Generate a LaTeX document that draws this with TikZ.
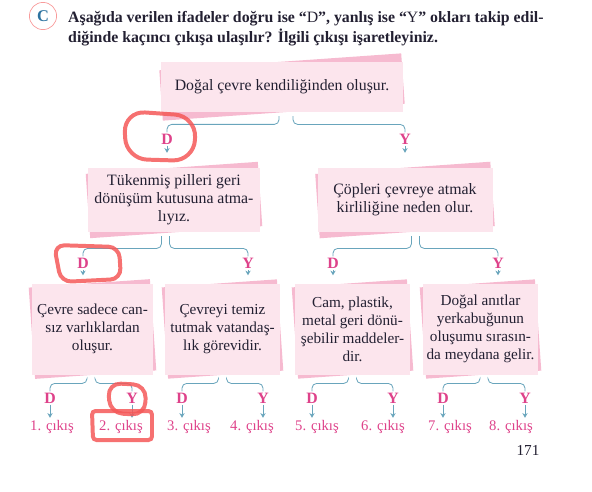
\documentclass[tikz,border=0pt]{standalone}
\usepackage{fontspec}
\setmainfont{Liberation Serif}
\usepackage{tikz}
\usetikzlibrary{positioning, calc, arrows.meta, backgrounds, fit}

\definecolor{cardPink}{RGB}{252, 229, 237}
\definecolor{backPink}{RGB}{246, 186, 208}
\definecolor{inkDark}{RGB}{35, 32, 50}
\definecolor{linkBlue}{RGB}{105, 165, 188}
\definecolor{answerPink}{RGB}{222, 66, 138}
\definecolor{markRed}{RGB}{244, 88, 88}
\definecolor{badgeBlue}{RGB}{45, 115, 160}

\begin{document}
\begin{tikzpicture}[
    x=0.03cm, y=-0.03cm,
    card/.style={fill=cardPink, inner sep=0pt, align=center, text=inkDark,
                 font=\fontsize{13.5}{15.3}\selectfont},
    smallcard/.style={card, font=\fontsize{13}{15.3}\selectfont},
    backcard/.style={fill=backPink, inner sep=0pt, rotate=4},
    choice/.style={text=answerPink, inner sep=1pt,
                   font=\bfseries\fontsize{13.5}{15}\selectfont},
    exit/.style={text=answerPink, inner sep=1pt, font=\fontsize{12.5}{14}\selectfont},
    link/.style={draw=linkBlue, line width=0.7pt, rounded corners=4pt},
    arrow/.style={-{Stealth[length=4pt, width=4.5pt]}, draw=linkBlue, line width=0.8pt},
    penmark/.style={draw=markRed, line width=3.4pt, opacity=0.85},
  ]
    \useasboundingbox (0,0) rectangle (592,491);

    % Task line
    \node[circle, draw=markRed!60, line width=0.6pt, minimum size=0.75cm,
          text=badgeBlue, font=\bfseries\fontsize{14}{16}\selectfont] (badge) at (43,16) {C};
    \node[anchor=base west, inner sep=0pt, text=inkDark,
          font=\bfseries\fontsize{13.5}{15}\selectfont] (task1) at (68,22)
         {Aşağıda verilen ifadeler doğru ise “\textmd{D}”, yanlış ise “\textmd{Y}” okları takip edil-};
    \node[anchor=base west, inner sep=0pt, text=inkDark,
          font=\bfseries\fontsize{13.5}{15}\selectfont] (task2) at (68,42)
         {diğinde kaçıncı çıkışa ulaşılır? İlgili çıkışı işaretleyiniz.};

    % First statement
    \node[card, minimum width=7.26cm, minimum height=1.5cm] (top) at (282,87)
         {Doğal çevre kendiliğinden oluşur.};
    \node[choice] (topD) at (167,139) {D};
    \node[choice] (topY) at (405,139) {Y};

    % Second row
    \node[card, minimum width=5.16cm, minimum height=1.92cm] (midL) at (174,200)
         {Tükenmiş pilleri geri\\dönüşüm kutusuna atma-\\lıyız.};
    \node[card, minimum width=5.25cm, minimum height=1.92cm] (midR) at (405,200)
         {Çöpleri çevreye atmak\\kirliliğine neden olur.};
    \node[choice] (midLD) at (83,263) {D};
    \node[choice] (midLY) at (248,263) {Y};
    \node[choice] (midRD) at (333,263) {D};
    \node[choice] (midRY) at (498,263) {Y};

    % Third row
    \node[smallcard, minimum width=3.63cm, minimum height=2.73cm] (endA) at (92.5,329)
         {Çevre sadece can-\\sız varlıklardan\\oluşur.};
    \node[smallcard, minimum width=3.45cm, minimum height=2.73cm] (endB) at (222.5,329)
         {Çevreyi temiz\\tutmak vatandaş-\\lık görevidir.};
    \node[smallcard, minimum width=3.45cm, minimum height=2.73cm] (endC) at (352.5,329)
         {Cam, plastik,\\metal geri dönü-\\şebilir maddeler-\\dir.};
    \node[smallcard, minimum width=3.45cm, minimum height=2.73cm] (endD) at (480.5,329)
         {Doğal anıtlar\\yerkabuğunun\\oluşumu sırasın-\\da meydana gelir.};
    \node[choice] (endAD) at (50,398) {D};
    \node[choice] (endAY) at (132,398) {Y};
    \node[choice] (endBD) at (182,398) {D};
    \node[choice] (endBY) at (263,398) {Y};
    \node[choice] (endCD) at (312,398) {D};
    \node[choice] (endCY) at (393,398) {Y};
    \node[choice] (endDD) at (443,398) {D};
    \node[choice] (endDY) at (525,398) {Y};

    % Exits
    \node[exit] (ex1) at (52,427) {1. çıkış};
    \node[exit] (ex2) at (121,427) {2. çıkış};
    \node[exit] (ex3) at (189,427) {3. çıkış};
    \node[exit] (ex4) at (252,427) {4. çıkış};
    \node[exit] (ex5) at (317,427) {5. çıkış};
    \node[exit] (ex6) at (383,427) {6. çıkış};
    \node[exit] (ex7) at (450,427) {7. çıkış};
    \node[exit] (ex8) at (511,427) {8. çıkış};

    \node[text=inkDark, font=\fontsize{13}{15}\selectfont] (page) at (528,450) {171};

    % Cards behind the cards
    \begin{scope}[on background layer]
      \foreach \c in {top, midL, midR, endA, endB, endC, endD}
        \node[backcard, fit=(\c)] {};
    \end{scope}

    % Brackets
    \foreach \card/\dn/\yn/\gap in {top/topD/topY/7, midL/midLD/midLY/4, midR/midRD/midRY/4,
        endA/endAD/endAY/4, endB/endBD/endBY/4, endC/endCD/endCY/4, endD/endDD/endDY/4} {
      \coordinate (m\card) at ($(\dn)!0.5!(\yn)$);
      \draw[link] ($(m\card |- \card.south)+(-\gap,4)$) |- ($(\dn.north)+(0,-8)$) -- (\dn.north);
      \draw[link] ($(m\card |- \card.south)+(\gap,4)$) |- ($(\yn.north)+(0,-8)$) -- (\yn.north);
    }

    % Arrows
    \draw[arrow, shorten >=0.45cm] (topD.south) -- (topD.south |- midL.north);
    \draw[arrow, shorten >=0.45cm] (topY.south) -- (topY.south |- midR.north);
    \foreach \dn/\card in {midLD/endA, midLY/endB, midRD/endC, midRY/endD}
      \draw[arrow, shorten >=0.24cm] (\dn.south) -- (\dn.south |- \card.north);
    \foreach \dn/\ex in {endAD/ex1, endAY/ex2, endBD/ex3, endBY/ex4,
                         endCD/ex5, endCY/ex6, endDD/ex7, endDY/ex8}
      \draw[arrow, shorten >=1pt] (\dn.south) -- (\dn.south |- \ex.north);

    % Pen marks
    \draw[penmark, rounded corners=18pt] (124,111) -- (196,116) -- (194,161) -- (126,159) -- cycle;
    \draw[penmark, rounded corners=9pt] (54,245) -- (119,247) -- (121,279) -- (61,282) -- cycle;
    \draw[penmark, rounded corners=11pt] (108,383) -- (146,385) -- (145,415) -- (110,413) -- cycle;
    \draw[penmark, rounded corners=3pt] (92,411) -- (152,411) -- (152,440) -- (93,440) -- cycle;
  \end{tikzpicture}
\end{document}
